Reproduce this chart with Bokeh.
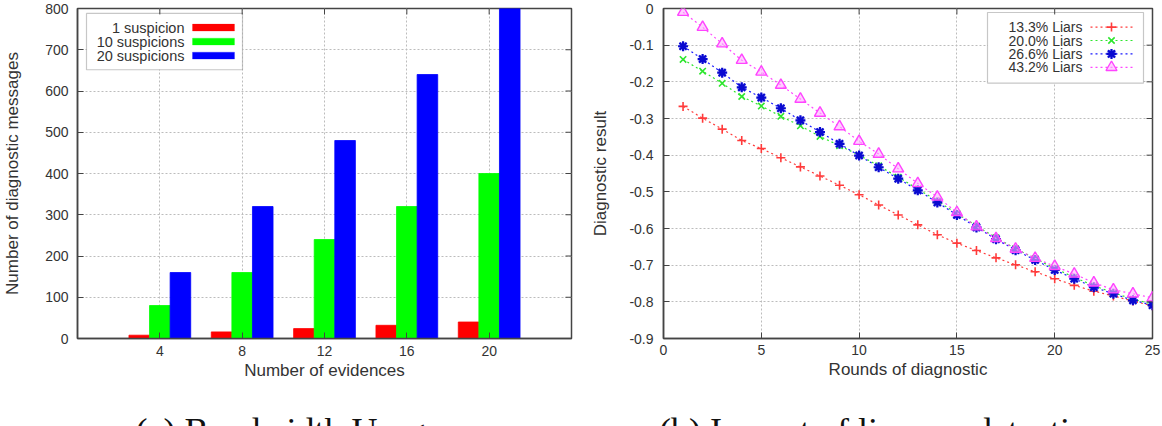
from bokeh.embed import file_html
from bokeh.layouts import column, row
from bokeh.models import (BoxAnnotation, ColumnDataSource, CustomJSTickFormatter,
                          FixedTicker, Label, Range1d)
from bokeh.plotting import figure
from bokeh.resources import INLINE
from bokeh.transform import dodge

# (a) diagnostic messages against the number of evidences
evidences = [4, 8, 12, 16, 20]
messages_1_suspicion = [8, 16, 24, 32, 40]
messages_10_suspicions = [80, 160, 240, 320, 400]
messages_20_suspicions = [160, 320, 480, 640, 800]
bar_labels = ["1 suspicion", "10 suspicions", "20 suspicions"]
bar_colors = ["#ff0000", "#00ff00", "#0000ff"]
bar_offsets = [-1.0, 0.0, 1.0]
evidence_ticks = [4, 8, 12, 16, 20]
message_ticks = [0, 100, 200, 300, 400, 500, 600, 700, 800]

# (b) diagnostic result over the rounds
rounds = [1, 2, 3, 4, 5, 6, 7, 8, 9, 10, 11, 12, 13, 14, 15, 16, 17, 18, 19, 20,
          21, 22, 23, 24, 25]
liars_13_3 = [-0.267, -0.299, -0.329, -0.360, -0.382, -0.407, -0.432, -0.457, -0.482,
              -0.508, -0.536, -0.563, -0.590, -0.617, -0.640, -0.660, -0.680, -0.699,
              -0.718, -0.737, -0.755, -0.771, -0.784, -0.798, -0.811]
liars_20_0 = [-0.139, -0.171, -0.204, -0.240, -0.266, -0.294, -0.320, -0.349, -0.374,
              -0.400, -0.429, -0.460, -0.492, -0.525, -0.559, -0.593, -0.625, -0.655,
              -0.682, -0.709, -0.733, -0.756, -0.775, -0.793, -0.806]
liars_26_6 = [-0.103, -0.138, -0.175, -0.215, -0.243, -0.272, -0.305, -0.337, -0.369,
              -0.401, -0.433, -0.464, -0.496, -0.529, -0.563, -0.597, -0.629, -0.659,
              -0.686, -0.713, -0.737, -0.760, -0.778, -0.796, -0.809]
liars_43_2 = [-0.010, -0.051, -0.096, -0.141, -0.173, -0.209, -0.247, -0.285, -0.322,
              -0.362, -0.397, -0.437, -0.477, -0.514, -0.556, -0.595, -0.627, -0.656,
              -0.681, -0.703, -0.724, -0.748, -0.767, -0.778, -0.789]
liar_labels = ["13.3% Liars", "20.0% Liars", "26.6% Liars", "43.2% Liars"]
liar_colors = ["#ff3b3b", "#2ee62e", "#1a1aff", "#ff44ff"]
round_ticks = [0, 5, 10, 15, 20, 25]
result_ticks = [-0.9, -0.8, -0.7, -0.6, -0.5, -0.4, -0.3, -0.2, -0.1, 0.0]

captions = ["(a) Bandwidth Usage", "(b) Impact of liars on detection"]

SANS = "Liberation Sans"
SERIF = "Liberation Serif"
INK = "#333333"
FRAME = "#444444"
GRID = "#bcbcbc"
TICK = 6          # inward tick length, px
PLOT_H = 410      # height of the two chart panels
CAP_H = 16        # strip for the sub-figure captions underneath


def make_figure(width, x_range, y_range, borders):
    left, right, top, bottom = borders
    p = figure(width=width, height=PLOT_H, x_range=x_range, y_range=y_range,
               output_backend="svg", toolbar_location=None,
               min_border_left=left, min_border_right=right,
               min_border_top=top, min_border_bottom=bottom)
    p.outline_line_color = FRAME
    p.outline_line_width = 1.5
    p.background_fill_color = "white"
    p.border_fill_color = "white"
    for grid in (p.xgrid, p.ygrid):
        grid.grid_line_color = GRID
        grid.grid_line_dash = "2 2"
        grid.grid_line_width = 1
    return p


def style_axis(ax, ticks):
    ax.ticker = FixedTicker(ticks=ticks)
    ax.axis_line_color = FRAME
    ax.axis_line_width = 1.5
    ax.major_tick_line_color = FRAME
    ax.major_tick_line_width = 1
    ax.major_tick_in = TICK
    ax.major_tick_out = 0
    ax.minor_tick_in = 0
    ax.minor_tick_out = 0
    ax.major_label_text_font = SANS
    ax.major_label_text_font_size = "14px"
    ax.major_label_text_color = INK
    ax.axis_label_text_font = SANS
    ax.axis_label_text_font_size = "17px"
    ax.axis_label_text_font_style = "normal"
    ax.axis_label_text_color = INK


def mirror_ticks(p, xticks, yticks, fx, fy):
    # short inward ticks along the top and right edges of the frame
    xr, yr = p.x_range, p.y_range
    n, m = len(xticks), len(yticks)
    p.segment(x0=xticks, y0=[yr.end] * n, x1=xticks, y1=[fy(TICK)] * n,
              line_color=FRAME, line_width=1)
    p.segment(x0=[xr.end] * m, y0=yticks, x1=[fx(-TICK)] * m, y1=yticks,
              line_color=FRAME, line_width=1)


def caption_figure(width, text, center_x):
    c = figure(width=width, height=CAP_H, x_range=Range1d(0, width), y_range=Range1d(0, CAP_H),
               output_backend="svg", toolbar_location=None,
               x_axis_type=None, y_axis_type=None, min_border=0)
    c.outline_line_color = None
    c.background_fill_color = "white"
    c.border_fill_color = "white"
    c.add_layout(Label(x=center_x, y=CAP_H, text=text,
                       text_align="center", text_baseline="top",
                       text_font=SERIF, text_font_size="36px", text_color="#111111"))
    return c


# ---------------- (a) bar chart ----------------
bx = Range1d(0, 24)
by = Range1d(0, 800)
A_LEFT, A_RIGHT, A_TOP, A_BOTTOM = 77, 9, 4, 72
A_FIG_W = 580
A_W, A_H = A_FIG_W - A_LEFT - A_RIGHT, PLOT_H - A_TOP - A_BOTTOM
pa = make_figure(A_FIG_W, bx, by, (A_LEFT, A_RIGHT, A_TOP, A_BOTTOM))


def ax_px(px):
    """frame pixel offset from the left edge -> data x"""
    return bx.start + px / A_W * (bx.end - bx.start)


def ay_px(py):
    """frame pixel offset from the top edge -> data y"""
    return by.end - py / A_H * (by.end - by.start)


def ax_from_right(px):
    return bx.end + px / A_W * (bx.end - bx.start)


pa.xgrid.ticker = FixedTicker(ticks=evidence_ticks)
pa.ygrid.ticker = FixedTicker(ticks=message_ticks)

bars = ColumnDataSource(dict(evidences=evidences,
                             s1=messages_1_suspicion,
                             s10=messages_10_suspicions,
                             s20=messages_20_suspicions))
for field, offset, color in zip(["s1", "s10", "s20"], bar_offsets, bar_colors):
    pa.vbar(x=dodge("evidences", offset), top=field, bottom=0, width=1.0,
            source=bars, fill_color=color, line_color=color, line_width=0.8)

style_axis(pa.below[0], evidence_ticks)
style_axis(pa.left[0], message_ticks)
pa.below[0].axis_label = "Number of evidences"
pa.left[0].axis_label = "Number of diagnostic messages"
pa.below[0].major_label_standoff = 7
pa.below[0].axis_label_standoff = 2
pa.left[0].major_label_standoff = 9
pa.left[0].axis_label_standoff = 20
mirror_ticks(pa, evidence_ticks, message_ticks, ax_from_right, ay_px)

# key box: text first, colour swatch after it
pa.add_layout(BoxAnnotation(left=ax_px(9), right=ax_px(165), top=ay_px(5), bottom=ay_px(62),
                            fill_color="white", fill_alpha=1.0,
                            line_color=FRAME, line_width=1.2, level="underlay"))
for i, (name, color) in enumerate(zip(bar_labels, bar_colors)):
    yrow = 19.3 + 14.2 * i
    pa.add_layout(Label(x=ax_px(107), y=ay_px(yrow), text=name,
                        text_align="right", text_baseline="middle",
                        text_font=SANS, text_font_size="14.5px", text_color=INK))
    pa.add_layout(BoxAnnotation(left=ax_px(115), right=ax_px(157),
                                top=ay_px(yrow - 3.5), bottom=ay_px(yrow + 3.5),
                                fill_color=color, fill_alpha=1.0,
                                line_color=color, line_width=0.8))

# ---------------- (b) line chart ----------------
lx = Range1d(0, 25)
ly = Range1d(-0.9, 0)
B_LEFT, B_RIGHT, B_TOP, B_BOTTOM = 83, 10, 8, 70
B_FIG_W = 1162 - A_FIG_W
B_W, B_H = B_FIG_W - B_LEFT - B_RIGHT, PLOT_H - B_TOP - B_BOTTOM
pb = make_figure(B_FIG_W, lx, ly, (B_LEFT, B_RIGHT, B_TOP, B_BOTTOM))


def bx_px(px):
    return lx.start + px / B_W * (lx.end - lx.start)


def by_px(py):
    return ly.end - py / B_H * (ly.end - ly.start)


def bx_from_right(px):
    return lx.end + px / B_W * (lx.end - lx.start)


pb.xgrid.ticker = FixedTicker(ticks=round_ticks)
pb.ygrid.ticker = FixedTicker(ticks=result_ticks)

series = [liars_13_3, liars_20_0, liars_26_6, liars_43_2]


def draw_marker(p, kind, xs, ys, color):
    if kind == 0:
        p.scatter(xs, ys, marker="cross", size=9, line_color=color, line_width=1.6)
    elif kind == 1:
        p.scatter(xs, ys, marker="x", size=9, line_color=color, line_width=1.6)
    elif kind == 2:
        p.scatter(xs, ys, marker="square", size=8, fill_color="#7070ff", fill_alpha=0.45,
                  line_color=None)
        p.scatter(xs, ys, marker="asterisk", size=10, line_color="#0a0ad0", line_width=2.2)
    else:
        p.scatter(xs, ys, marker="triangle", size=11, fill_color="#ffb0ff", fill_alpha=0.6,
                  line_color=color, line_width=1.4)


for k, (vals, color) in enumerate(zip(series, liar_colors)):
    pb.line(rounds, vals, line_color=color, line_dash="2 3", line_width=1.2)
    draw_marker(pb, k, rounds, vals, color)

style_axis(pb.below[0], round_ticks)
style_axis(pb.left[0], result_ticks)
pb.left[0].formatter = CustomJSTickFormatter(
    code="return Math.abs(tick) < 1e-9 ? '0' : tick.toFixed(1);")
pb.below[0].axis_label = "Rounds of diagnostic"
pb.left[0].axis_label = "Diagnostic result"
pb.below[0].major_label_standoff = 6
pb.below[0].axis_label_standoff = 2
pb.left[0].major_label_standoff = 10
pb.left[0].axis_label_standoff = 16
mirror_ticks(pb, round_ticks, result_ticks, bx_from_right, by_px)

# key box: text, then a dotted sample line with its marker
pb.add_layout(BoxAnnotation(left=bx_px(324), right=bx_px(480), top=by_px(4), bottom=by_px(75),
                            fill_color="white", fill_alpha=1.0,
                            line_color=FRAME, line_width=1.2, level="underlay"))
for k, (name, color) in enumerate(zip(liar_labels, liar_colors)):
    yrow = 18.7 + 13.5 * k
    pb.add_layout(Label(x=bx_px(419), y=by_px(yrow), text=name,
                        text_align="right", text_baseline="middle",
                        text_font=SANS, text_font_size="14px", text_color=INK))
    pb.segment(x0=[bx_px(427)], y0=[by_px(yrow)], x1=[bx_px(469)], y1=[by_px(yrow)],
               line_color=color, line_dash="2 3", line_width=1.2)
    draw_marker(pb, k, [bx_px(448)], [by_px(yrow)], color)

# ---------------- captions ----------------
cap_a = caption_figure(A_FIG_W, captions[0], 288)
cap_b = caption_figure(B_FIG_W, captions[1], 882 - A_FIG_W)

layout = column(row(pa, pb), row(cap_a, cap_b))
open("out.html", "w").write(file_html(layout, INLINE))
